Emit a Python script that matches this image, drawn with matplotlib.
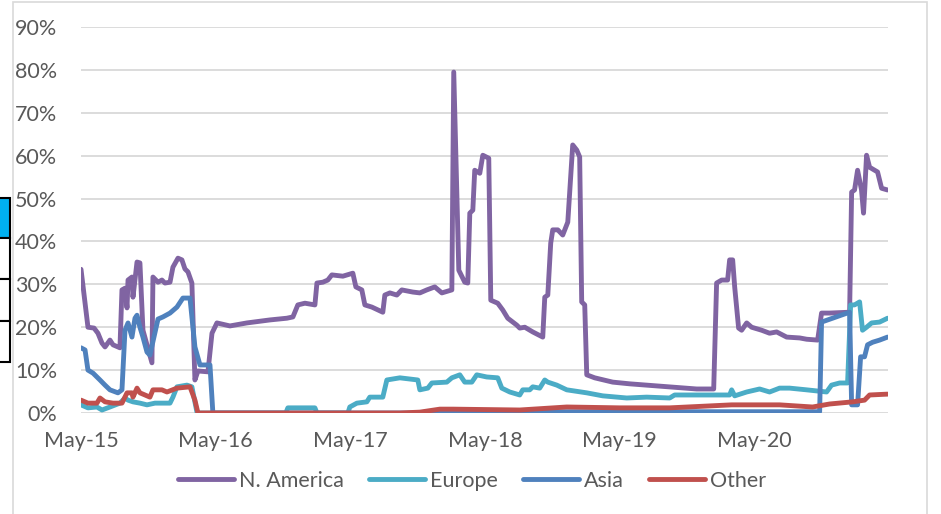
import matplotlib
matplotlib.use("Agg")
import matplotlib.pyplot as plt
from matplotlib.patches import Rectangle

# months since May-2015, share in %
na_months = [0.0, 0.62, 1.16, 1.51, 1.87, 2.14, 2.58, 2.85, 3.47, 3.65, 3.92, 4.10, 4.19,
             4.54, 4.63, 4.99, 5.25, 5.52, 6.32, 6.41, 6.86, 7.21, 7.48, 7.93, 8.19, 8.64,
             8.99, 9.26, 9.53, 9.88, 10.15, 10.42, 11.31, 11.67, 12.11, 13.27, 14.78, 16.83,
             18.34, 18.88, 19.32, 19.95, 20.84, 21.02, 21.55, 21.99, 22.35, 23.33, 24.22,
             24.49, 25.02, 25.29, 25.91, 26.89, 27.07, 27.52, 28.14, 28.58, 29.56, 30.19,
             30.81, 31.52, 32.15, 33.04, 33.21, 33.66, 34.19, 34.46, 34.64, 34.91, 35.08,
             35.53, 35.80, 36.33, 36.51, 37.13, 37.58, 38.02, 38.82, 39.09, 39.54, 40.25,
             41.14, 41.32, 41.59, 41.85, 42.03, 42.48, 42.92, 43.37, 43.81, 44.17, 44.43,
             44.61, 44.88, 45.06, 45.77, 47.37, 48.89, 50.40, 52.45, 54.85, 56.37, 56.63,
             57.08, 57.61, 57.79, 58.06, 58.24, 58.59, 58.86, 59.31, 59.75, 60.64, 61.35,
             61.98, 62.51, 62.87, 64.03, 64.65, 65.63, 65.98, 66.70, 68.48, 68.66, 68.92,
             69.19, 69.54, 69.72, 69.99, 70.26, 70.97, 71.33, 71.86]
na_share = [33.5, 20.0, 19.8, 18.6, 16.3, 15.4, 17.0, 15.9, 15.2, 28.7, 29.1, 24.5, 31.0,
            31.7, 27.0, 35.2, 35.0, 19.3, 11.7, 31.7, 30.5, 31.0, 30.3, 30.5, 34.0, 36.1,
            35.7, 33.6, 32.9, 30.3, 7.7, 9.8, 9.6, 18.6, 21.0, 20.3, 21.0, 21.7,
            22.1, 22.4, 25.2, 25.6, 25.2, 30.3, 30.5, 31.0, 32.2, 31.9, 32.6,
            29.4, 28.7, 25.2, 24.7, 23.5, 27.5, 28.0, 27.5, 28.7, 28.2, 28.0,
            28.7, 29.4, 28.0, 28.7, 79.5, 33.3, 30.5, 30.3, 46.6, 47.3, 56.6,
            55.9, 60.1, 59.4, 26.3, 25.6, 24.0, 22.1, 20.5, 19.8, 20.0, 18.9,
            17.7, 27.0, 27.5, 39.6, 42.7, 42.7, 41.5, 44.5, 62.5, 61.3, 59.7,
            25.9, 25.2, 8.9, 8.2, 7.2, 6.8, 6.5, 6.1, 5.6, 5.6, 30.3,
            31.0, 31.0, 35.7, 35.7, 29.4, 19.8, 19.3, 21.0, 20.0, 19.3, 18.6,
            18.9, 18.2, 17.7, 17.5, 17.2, 17.0, 23.3, 23.3, 23.5, 51.5, 52.0,
            56.6, 52.0, 46.6, 60.1, 57.3, 56.2, 52.4, 52.0]

eu_months = [0.0, 0.62, 1.42, 1.87, 2.58, 3.47, 3.92, 4.19, 4.63, 5.25, 5.88, 6.59, 7.93,
             8.19, 8.55, 9.44, 9.88, 10.33, 10.42, 18.25, 18.43, 20.84, 21.02, 23.78, 23.95,
             24.58, 25.47, 25.73, 26.89, 27.25, 28.41, 30.01, 30.19, 30.90, 31.26, 32.59,
             33.04, 33.75, 34.19, 34.82, 35.26, 36.15, 37.13, 37.49, 38.20, 39.09, 39.36,
             39.98, 40.25, 40.87, 41.32, 41.59, 42.39, 43.28, 45.06, 46.48, 48.62, 50.40,
             52.45, 52.89, 56.28, 57.79, 57.97, 58.24, 59.31, 60.46, 61.35, 62.24, 63.13,
             64.65, 66.43, 66.87, 67.59, 68.30, 68.57, 68.92, 69.37, 69.63, 69.99, 70.44,
             71.15, 71.86]
eu_share = [1.9, 1.2, 1.4, 0.7, 1.4, 2.3, 3.5, 3.0, 2.6, 2.3, 1.9, 2.3, 2.3,
            3.7, 6.1, 6.5, 6.1, 0.2, 0.0, 0.0, 1.2, 1.2, 0.0, 0.0, 1.4,
            2.3, 2.6, 3.7, 3.7, 7.7, 8.2, 7.7, 5.4, 5.8, 7.0, 7.2,
            8.2, 8.9, 7.2, 7.2, 8.9, 8.4, 8.2, 5.8, 4.9, 4.2, 5.4,
            5.4, 6.1, 5.8, 7.7, 7.2, 6.5, 5.4, 4.7, 4.0, 3.5, 3.7,
            3.5, 4.2, 4.2, 4.2, 5.4, 4.0, 4.9, 5.6, 4.9, 5.8, 5.8,
            5.4, 4.9, 6.5, 7.0, 7.0, 25.2, 25.2, 25.9, 19.3, 20.0, 21.0,
            21.2, 22.1]

asia_months = [0.0, 0.36, 0.62, 1.07, 1.69, 2.14, 2.58, 3.29, 3.65, 3.92, 4.19, 4.54, 4.81,
               4.99, 5.25, 5.52, 5.88, 6.14, 6.50, 6.86, 7.30, 7.93, 8.55, 9.08, 9.71, 10.15,
               10.60, 11.49, 11.75, 30.0, 31.0, 65.81, 65.98, 66.96, 68.48, 68.66, 69.19,
               69.46, 69.81, 70.08, 70.53, 71.15, 71.86]
asia_share = [15.2, 14.7, 10.0, 9.3, 7.7, 6.5, 5.4, 4.7, 5.4, 19.3, 21.0, 17.7, 22.1,
              22.8, 20.0, 17.7, 14.2, 13.5, 17.7, 21.9, 22.4, 23.3, 24.7, 26.8, 26.8, 15.4,
              11.2, 11.2, 0.0, 0.0, 0.3, 0.3, 21.2, 22.1, 23.5, 1.9, 1.9,
              13.1, 13.1, 15.9, 16.5, 17.0, 17.7]

oth_months = [0.0, 0.62, 1.42, 1.69, 2.14, 2.85, 3.65, 4.10, 4.54, 4.63, 4.99, 5.25, 5.70,
              6.14, 6.41, 7.21, 7.66, 8.55, 9.71, 10.15, 10.42, 28.41, 30.19, 31.97, 33.13,
              39.09, 43.28, 48.00, 52.45, 57.97, 62.24, 65.18, 66.70, 68.75, 69.81, 70.26,
              71.86]
oth_share = [3.0, 2.3, 2.3, 3.5, 2.6, 2.3, 2.3, 4.7, 4.7, 3.7, 5.8, 4.7, 4.2,
             3.7, 5.4, 5.4, 4.9, 5.8, 6.1, 3.0, 0.0, 0.0, 0.2, 0.9, 0.9,
             0.7, 1.4, 1.2, 1.2, 1.9, 1.9, 1.4, 2.1, 2.6, 3.0, 4.2,
             4.4]

x_ticks = [0, 12, 24, 36, 48, 60]
x_labels = ["May-15", "May-16", "May-17", "May-18", "May-19", "May-20"]
y_ticks = [0, 10, 20, 30, 40, 50, 60, 70, 80, 90]

plt.rcParams['font.family'] = ['Lato', 'DejaVu Sans']
grey = "#595959"
fsize = 15.5
lw = 3.5

fig = plt.figure(figsize=(9.41, 5.14), dpi=100)
W, H = 941.0, 514.0
ax = fig.add_axes([81 / W, 1 - 413 / H, (888 - 81) / W, (413 - 27) / H])

style = dict(lw=lw, solid_capstyle='round', solid_joinstyle='round')
ax.plot(na_months, na_share, color="#8064A2", label="N. America", **style)
ax.plot(eu_months, eu_share, color="#4BACC6", label="Europe", **style)
ax.plot(asia_months, asia_share, color="#4F81BD", label="Asia", **style)
ax.plot(oth_months, oth_share, color="#C0504D", label="Other", **style)

ax.set_xlim(0, 71.9)
ax.set_ylim(0, 90)
ax.set_yticks(y_ticks)
ax.set_yticklabels([f"{v}%" for v in y_ticks])
ax.set_xticks(x_ticks)
ax.set_xticklabels(x_labels)
ax.tick_params(length=0, labelsize=fsize, labelcolor=grey)
ax.tick_params(axis='y', pad=17)
ax.tick_params(axis='x', pad=13)
ax.grid(axis='y', color="#D9D9D9", lw=1.3)
ax.set_axisbelow(True)
for s in ax.spines.values():
    s.set_visible(False)
ax.patch.set_alpha(0)

leg = fig.legend(loc='center', bbox_to_anchor=(472 / W, 1 - 481 / H), ncol=4,
                 frameon=False, fontsize=fsize, handlelength=2.6, handletextpad=0.2,
                 columnspacing=1.2)
for t in leg.get_texts():
    t.set_color(grey)
for h in leg.legend_handles:
    h.set_linewidth(lw)
    h.set_solid_capstyle('round')

# outer chart border
fig.patches.append(Rectangle((12.5 / W, -0.05), (926.5 - 12.5) / W, 1.05 - 2 / H,
                             transform=fig.transFigure, fill=False,
                             edgecolor="#D9D9D9", lw=1.2))

# cropped cells at the left edge of the screenshot
fig.patches.append(Rectangle((-0.01, 1 - 238 / H), 10 / W + 0.01, 40 / H,
                             transform=fig.transFigure, facecolor="#00B0F0",
                             edgecolor="black", lw=1.5))
for top, bot in [(238, 279), (279, 321), (321, 362)]:
    fig.patches.append(Rectangle((-0.01, 1 - bot / H), 10 / W + 0.01, (bot - top) / H,
                                 transform=fig.transFigure, facecolor="white",
                                 edgecolor="black", lw=1.5))

fig.savefig("out.png", dpi=100)
